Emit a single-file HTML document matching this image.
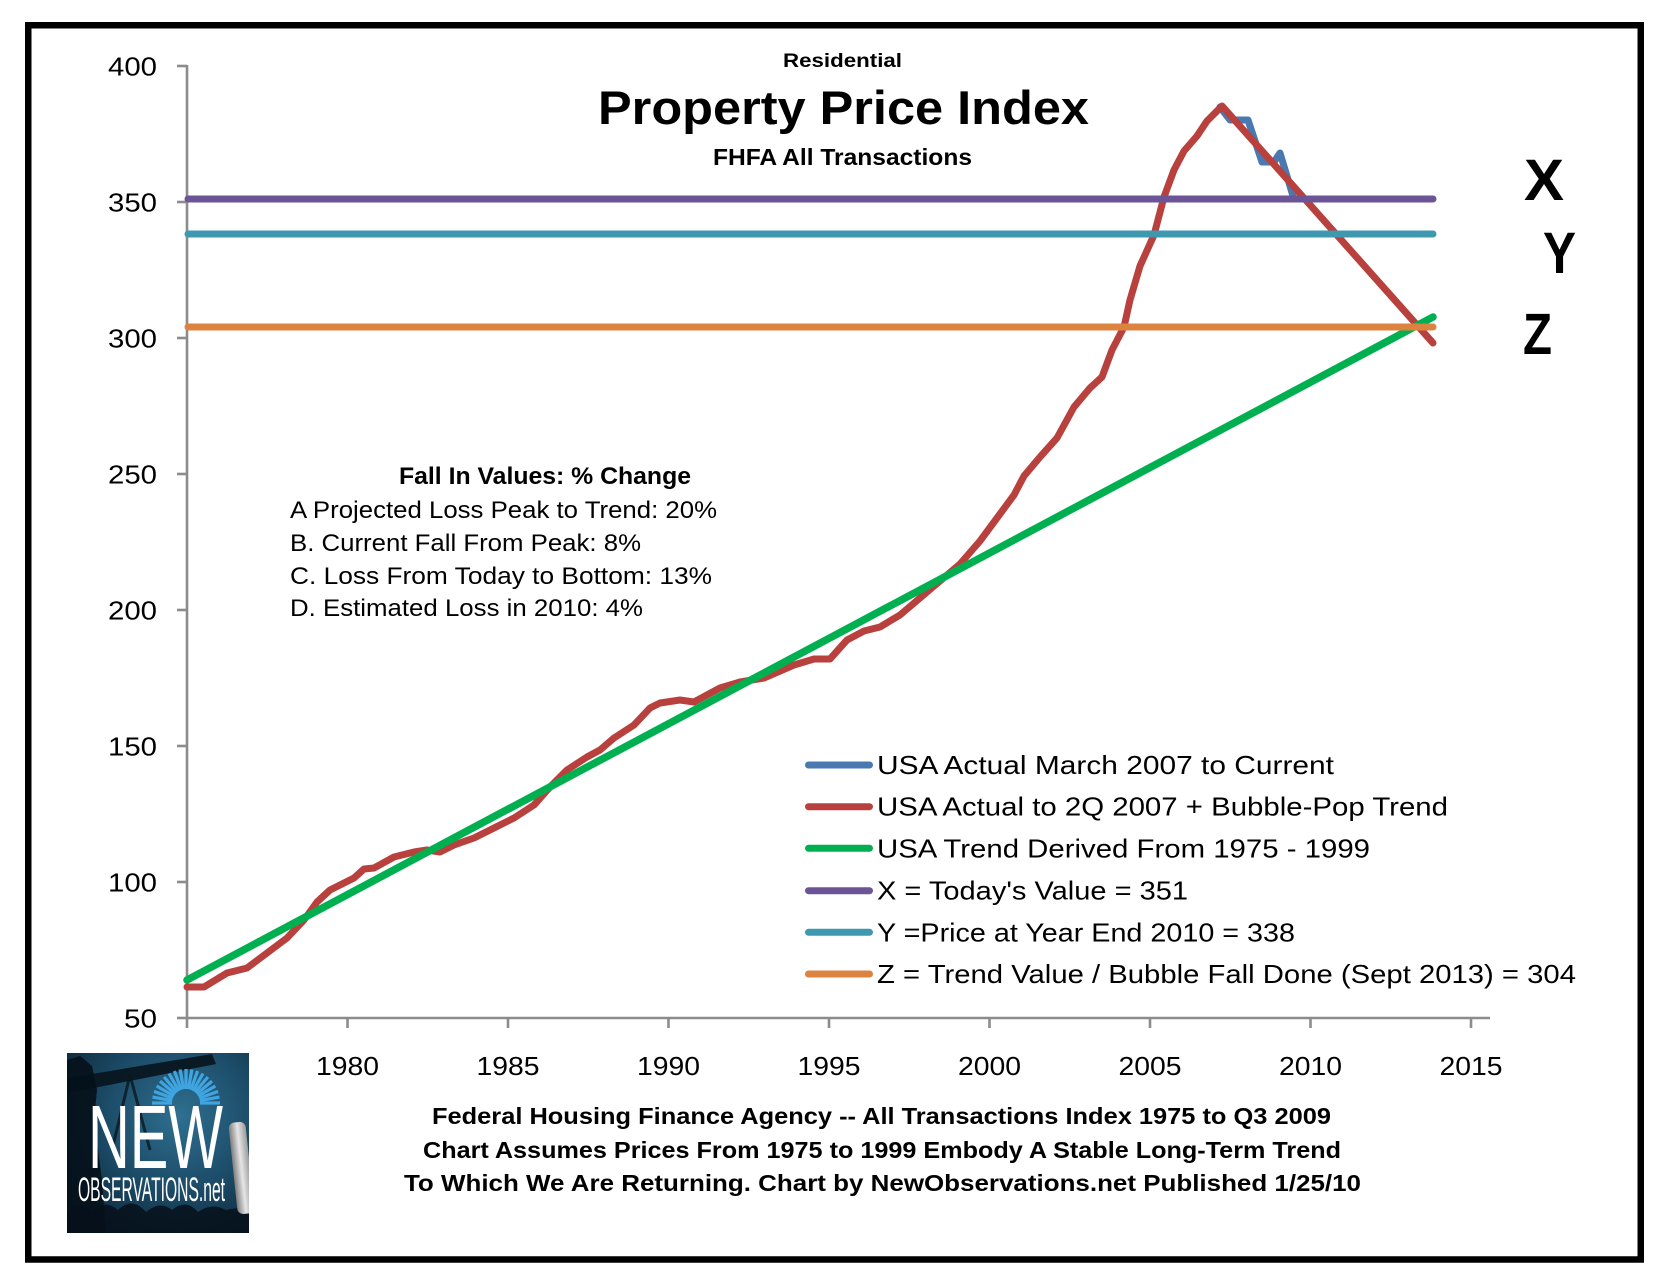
<!DOCTYPE html>
<html>
<head>
<meta charset="utf-8">
<style>
html,body{margin:0;padding:0;background:#fff;}
svg{display:block;}
text{font-family:"Liberation Sans",Arial,sans-serif;fill:#000;}
</style>
</head>
<body>
<svg width="1664" height="1281" viewBox="0 0 1664 1281" xmlns="http://www.w3.org/2000/svg">
<defs>
  <radialGradient id="lg" cx="0.62" cy="0.35" r="0.85">
    <stop offset="0" stop-color="#2f6f90"/>
    <stop offset="0.5" stop-color="#1b4a66"/>
    <stop offset="1" stop-color="#0b1f2e"/>
  </radialGradient>
  <linearGradient id="mic" x1="0" y1="0" x2="1" y2="0">
    <stop offset="0" stop-color="#7d7d7d"/>
    <stop offset="0.5" stop-color="#e6e6e6"/>
    <stop offset="1" stop-color="#9a9a9a"/>
  </linearGradient>
  <clipPath id="logoclip"><rect x="67" y="1053" width="182" height="180"/></clipPath>
</defs>

<rect x="0" y="0" width="1664" height="1281" fill="#fff"/>
<rect x="28.25" y="25.25" width="1612.5" height="1234.25" fill="none" stroke="#000" stroke-width="6.5"/>

<text x="783" y="67" font-size="19" font-weight="bold" textLength="119" lengthAdjust="spacingAndGlyphs">Residential</text>
<text x="598" y="124" font-size="47" font-weight="bold" textLength="491" lengthAdjust="spacingAndGlyphs">Property Price Index</text>
<text x="713" y="165" font-size="23" font-weight="bold" textLength="259" lengthAdjust="spacingAndGlyphs">FHFA All Transactions</text>

<g stroke="#8c8c8c" stroke-width="2.6" fill="none">
  <line x1="187" y1="65" x2="187" y2="1018"/>
  <line x1="186" y1="1018" x2="1490" y2="1018"/>
  <line x1="177" y1="66" x2="187" y2="66"/>
  <line x1="177" y1="202" x2="187" y2="202"/>
  <line x1="177" y1="338" x2="187" y2="338"/>
  <line x1="177" y1="474" x2="187" y2="474"/>
  <line x1="177" y1="610" x2="187" y2="610"/>
  <line x1="177" y1="746" x2="187" y2="746"/>
  <line x1="177" y1="882" x2="187" y2="882"/>
  <line x1="177" y1="1018" x2="187" y2="1018"/>
  <line x1="187" y1="1018" x2="187" y2="1028"/>
  <line x1="347.5" y1="1018" x2="347.5" y2="1028"/>
  <line x1="508" y1="1018" x2="508" y2="1028"/>
  <line x1="668.5" y1="1018" x2="668.5" y2="1028"/>
  <line x1="829" y1="1018" x2="829" y2="1028"/>
  <line x1="989.5" y1="1018" x2="989.5" y2="1028"/>
  <line x1="1150" y1="1018" x2="1150" y2="1028"/>
  <line x1="1310.5" y1="1018" x2="1310.5" y2="1028"/>
  <line x1="1471" y1="1018" x2="1471" y2="1028"/>
</g>

<g font-size="26" text-anchor="end">
  <text x="157" y="75.5" textLength="49" lengthAdjust="spacingAndGlyphs">400</text>
  <text x="157" y="211.5" textLength="49" lengthAdjust="spacingAndGlyphs">350</text>
  <text x="157" y="347.5" textLength="49" lengthAdjust="spacingAndGlyphs">300</text>
  <text x="157" y="483.5" textLength="49" lengthAdjust="spacingAndGlyphs">250</text>
  <text x="157" y="619.5" textLength="49" lengthAdjust="spacingAndGlyphs">200</text>
  <text x="157" y="755.5" textLength="49" lengthAdjust="spacingAndGlyphs">150</text>
  <text x="157" y="891.5" textLength="49" lengthAdjust="spacingAndGlyphs">100</text>
  <text x="157" y="1027.5" textLength="33" lengthAdjust="spacingAndGlyphs">50</text>
</g>

<g font-size="26" text-anchor="middle">
  <text x="347.5" y="1075" textLength="63" lengthAdjust="spacingAndGlyphs">1980</text>
  <text x="508" y="1075" textLength="63" lengthAdjust="spacingAndGlyphs">1985</text>
  <text x="668.5" y="1075" textLength="63" lengthAdjust="spacingAndGlyphs">1990</text>
  <text x="829" y="1075" textLength="63" lengthAdjust="spacingAndGlyphs">1995</text>
  <text x="989.5" y="1075" textLength="63" lengthAdjust="spacingAndGlyphs">2000</text>
  <text x="1150" y="1075" textLength="63" lengthAdjust="spacingAndGlyphs">2005</text>
  <text x="1310.5" y="1075" textLength="63" lengthAdjust="spacingAndGlyphs">2010</text>
  <text x="1471" y="1075" textLength="63" lengthAdjust="spacingAndGlyphs">2015</text>
</g>

<g fill="none" stroke-linecap="round" stroke-linejoin="round" stroke-width="7">
  <polyline stroke="#4a78b0" points="1220,107 1230,120 1248,120 1262,162 1274,162 1280,153 1293,196"/>
  <polyline stroke="#b8413e" points="187,987 204,987 227,973 247,968 267,953 287,938 304,920 317,902 330,890 354,878 364,869 374,868 394,857 414,852 427,850 440,852 454,845 474,838 494,828 514,818 534,805 550,787 567,770 587,757 600,750 614,738 634,725 650,708 660,703 680,700 694,702 707,695 720,688 740,682 764,678 794,665 814,659 830,659 847,640 864,631 880,627 900,615 920,598 940,581 960,564 980,541 997,518 1014,495 1024,476 1040,457 1057,438 1074,407 1090,388 1102,377 1112,350 1124,327 1130,300 1140,266 1154,235 1164,197 1174,170 1184,151 1197,136 1207,121 1222,106 1433,343"/>
  <line stroke="#00b050" stroke-width="7.5" x1="187" y1="980" x2="1433" y2="317"/>
  <line stroke="#6b5596" x1="188" y1="199" x2="1433" y2="199"/>
  <line stroke="#3e98b0" x1="188" y1="234" x2="1433" y2="234"/>
  <line stroke="#dd8340" x1="188" y1="327" x2="1433" y2="327"/>
</g>

<g font-size="58" font-weight="bold">
  <text x="1524" y="200" textLength="40" lengthAdjust="spacingAndGlyphs">X</text>
  <text x="1543" y="273" textLength="33" lengthAdjust="spacingAndGlyphs">Y</text>
  <text x="1523" y="354" textLength="29" lengthAdjust="spacingAndGlyphs">Z</text>
</g>

<text x="399" y="484" font-size="24.5" font-weight="bold" textLength="292" lengthAdjust="spacingAndGlyphs">Fall In Values: % Change</text>
<g font-size="24.5">
  <text x="290" y="518" textLength="427" lengthAdjust="spacingAndGlyphs">A Projected Loss Peak to Trend: 20%</text>
  <text x="290" y="551" textLength="351" lengthAdjust="spacingAndGlyphs">B. Current Fall From Peak: 8%</text>
  <text x="290" y="584" textLength="422" lengthAdjust="spacingAndGlyphs">C. Loss From Today to Bottom: 13%</text>
  <text x="290" y="616" textLength="353" lengthAdjust="spacingAndGlyphs">D. Estimated Loss in 2010: 4%</text>
</g>

<g stroke-width="7" stroke-linecap="round">
  <line x1="808.5" y1="765" x2="869.5" y2="765" stroke="#4a78b0"/>
  <line x1="808.5" y1="806.7" x2="869.5" y2="806.7" stroke="#b8413e"/>
  <line x1="808.5" y1="848.3" x2="869.5" y2="848.3" stroke="#00b050"/>
  <line x1="808.5" y1="890.7" x2="869.5" y2="890.7" stroke="#6b5596"/>
  <line x1="808.5" y1="932.3" x2="869.5" y2="932.3" stroke="#3e98b0"/>
  <line x1="808.5" y1="974" x2="869.5" y2="974" stroke="#dd8340"/>
</g>
<g font-size="26">
  <text x="877" y="774" textLength="457" lengthAdjust="spacingAndGlyphs">USA Actual March 2007 to Current</text>
  <text x="877" y="815.7" textLength="571" lengthAdjust="spacingAndGlyphs">USA Actual to 2Q 2007 + Bubble-Pop Trend</text>
  <text x="877" y="857.3" textLength="493" lengthAdjust="spacingAndGlyphs">USA Trend Derived From 1975 - 1999</text>
  <text x="877" y="899.7" textLength="311" lengthAdjust="spacingAndGlyphs">X = Today's Value = 351</text>
  <text x="877" y="941.3" textLength="418" lengthAdjust="spacingAndGlyphs">Y =Price at Year End 2010 = 338</text>
  <text x="877" y="983" textLength="699" lengthAdjust="spacingAndGlyphs">Z = Trend Value / Bubble Fall Done (Sept 2013) = 304</text>
</g>

<g font-size="23" font-weight="bold" style="white-space:pre">
  <text x="432" y="1124" textLength="899" lengthAdjust="spacingAndGlyphs">Federal  Housing Finance Agency -- All Transactions Index 1975 to Q3 2009</text>
  <text x="423" y="1158" textLength="918" lengthAdjust="spacingAndGlyphs">Chart Assumes Prices From 1975 to 1999 Embody A Stable Long-Term Trend</text>
  <text x="404" y="1191" textLength="957" lengthAdjust="spacingAndGlyphs">To Which We Are Returning. Chart by NewObservations.net Published 1/25/10</text>
</g>

<g clip-path="url(#logoclip)">
  <rect x="67" y="1053" width="182" height="180" fill="url(#lg)"/>
  <polygon points="68,1078 212,1054 216,1064 68,1093" fill="#08141c" opacity="0.9"/>
  <line x1="130" y1="1075" x2="112" y2="1150" stroke="#0a1820" stroke-width="3" opacity="0.8"/>
  <line x1="130" y1="1075" x2="150" y2="1150" stroke="#0a1820" stroke-width="3" opacity="0.8"/>
  <path d="M67,1060 L80,1056 L92,1066 L97,1090 L94,1120 L102,1180 L106,1233 L67,1233 Z" fill="#06111a" opacity="0.9"/>
  <g stroke="#3fa4e0" stroke-width="3.2">
    <line x1="172" y1="1103" x2="152" y2="1103"/>
    <line x1="172.2" y1="1100.6" x2="152.5" y2="1097.1"/>
    <line x1="172.8" y1="1098.2" x2="154" y2="1091.4"/>
    <line x1="173.9" y1="1096" x2="156.6" y2="1086"/>
    <line x1="175.3" y1="1094" x2="160" y2="1081.1"/>
    <line x1="177" y1="1092.3" x2="164.1" y2="1077"/>
    <line x1="179" y1="1090.9" x2="169" y2="1073.6"/>
    <line x1="181.2" y1="1089.8" x2="174.4" y2="1071"/>
    <line x1="183.6" y1="1089.2" x2="180.1" y2="1069.5"/>
    <line x1="186" y1="1089" x2="186" y2="1069"/>
    <line x1="188.4" y1="1089.2" x2="191.9" y2="1069.5"/>
    <line x1="190.8" y1="1089.8" x2="197.6" y2="1071"/>
    <line x1="193" y1="1090.9" x2="203" y2="1073.6"/>
    <line x1="195" y1="1092.3" x2="207.9" y2="1077"/>
    <line x1="196.7" y1="1094" x2="212" y2="1081.1"/>
    <line x1="198.1" y1="1096" x2="215.4" y2="1086"/>
    <line x1="199.2" y1="1098.2" x2="218" y2="1091.4"/>
    <line x1="199.8" y1="1100.6" x2="219.5" y2="1097.1"/>
    <line x1="200" y1="1103" x2="220" y2="1103"/>
  </g>
  <path d="M67,1233 L67,1212 Q80,1200 92,1212 Q104,1198 118,1210 Q132,1196 146,1212 Q160,1200 172,1210 Q186,1198 198,1212 Q212,1202 226,1210 L249,1206 L249,1233 Z" fill="#06111a" opacity="0.85"/>
  <rect x="233" y="1122" width="17" height="92" rx="6" fill="url(#mic)" transform="rotate(-6 241 1168)"/>
  <text x="88" y="1168" font-size="90" style="fill:#fff;font-family:'Liberation Sans Narrow','Liberation Sans',sans-serif" textLength="135" lengthAdjust="spacingAndGlyphs">NEW</text>
  <text x="78" y="1201" font-size="34" style="fill:#fff;font-family:'Liberation Sans Narrow','Liberation Sans',sans-serif" textLength="147" lengthAdjust="spacingAndGlyphs">OBSERVATIONS.net</text>
</g>
</svg>
</body>
</html>
